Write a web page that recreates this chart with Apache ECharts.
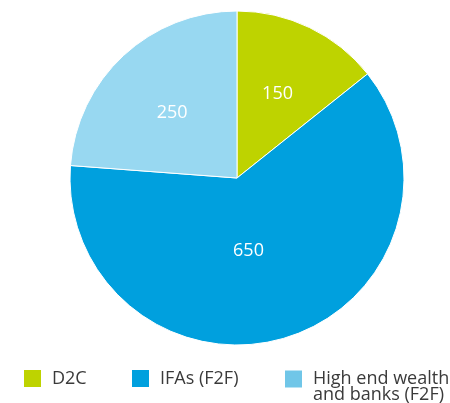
<!DOCTYPE html>
<html>
<head>
<meta charset="utf-8">
<script src="https://cdn.jsdelivr.net/npm/echarts@6/dist/echarts.min.js"></script>
<style>
  html, body { margin: 0; padding: 0; background: #fff; }
  #chart { width: 450px; height: 403px; }
</style>
</head>
<body>
<div id="chart"></div>
<script>
var categories = ['D2C', 'IFAs (F2F)', 'High end wealth\nand banks (F2F)'];
var values = [150, 650, 250];
var sliceColors = ['#bed300', '#00a0de', '#98d8f1'];
var legendColors = ['#bed300', '#00a0de', '#70c6e8'];
var legendLeft = [22, 130, 283];
// small nudges so value labels sit where the original puts them
var labelShift = [[3, -6], [-14, -10], [-6, -2]];

var myChart = echarts.init(document.getElementById('chart'));

var font = '"Open Sans", "Noto Sans", sans-serif';

var legends = categories.map(function (name, i) {
    var lines = name.split('\n');
    var twoLines = lines.length > 1;
    return {
        data: [{ name: name, itemStyle: { color: legendColors[i] } }],
        left: legendLeft[i],
        top: twoLines ? 354 : 368,
        padding: 0,
        icon: 'rect',
        itemWidth: 19,
        itemHeight: 19,
        selectedMode: false,
        // blank first line keeps the icon level with the first text line
        formatter: function () {
            var parts = lines.map(function (l) { return '{t|' + l + '}'; });
            if (twoLines) parts.unshift('{t| }');
            return parts.join('\n');
        },
        textStyle: {
            fontFamily: font,
            fontSize: 18,
            color: '#3a3a3a',
            lineHeight: 16,
            rich: {
                t: {
                    fontFamily: font,
                    fontSize: 18,
                    color: '#3a3a3a',
                    lineHeight: 16,
                    padding: [0, 0, 0, 5]
                }
            }
        }
    };
});

var option = {
    animation: false,
    legend: legends,
    series: [{
        type: 'pie',
        center: [237, 178],
        radius: 167,
        startAngle: 90,
        clockwise: true,
        label: {
            show: true,
            position: 'inside',
            color: '#fff',
            fontFamily: font,
            fontSize: 18,
            formatter: '{c}'
        },
        labelLayout: function (p) {
            var s = labelShift[p.dataIndex];
            return { dx: s[0], dy: s[1] };
        },
        labelLine: { show: false },
        emphasis: { disabled: true },
        itemStyle: { borderColor: '#fff', borderWidth: 1 },
        data: categories.map(function (name, i) {
            return { name: name, value: values[i], itemStyle: { color: sliceColors[i] } };
        })
    }]
};

myChart.setOption(option);
</script>
</body>
</html>
